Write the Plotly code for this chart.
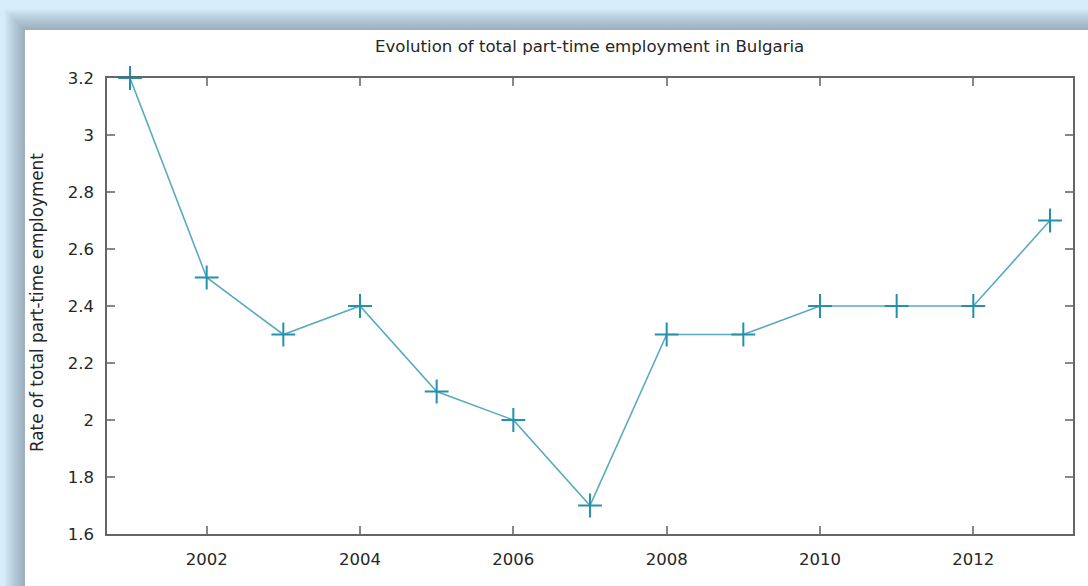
import plotly.graph_objects as go

years = [2001, 2002, 2003, 2004, 2005, 2006, 2007, 2008, 2009, 2010, 2011, 2012, 2013]
rates = [3.2, 2.5, 2.3, 2.4, 2.1, 2.0, 1.7, 2.3, 2.3, 2.4, 2.4, 2.4, 2.7]
x_ticks = [2002, 2004, 2006, 2008, 2010, 2012]
y_ticks = [1.6, 1.8, 2.0, 2.2, 2.4, 2.6, 2.8, 3.0, 3.2]
y_labels = ["1.6", "1.8", "2", "2.2", "2.4", "2.6", "2.8", "3", "3.2"]

W, H = 1088, 586
L, R, T, B = 107, 1073, 78, 534
pw, ph = R - L, B - T

def px(x):
    return (x - L) / pw

def py(y):
    return (B - y) / ph

FONT = "DejaVu Sans"
TXT = "#262626"

fig = go.Figure()
fig.add_trace(go.Scatter(
    x=years, y=rates, mode="lines+markers",
    line=dict(color="#5aabc0", width=1.6),
    marker=dict(symbol="cross-thin", size=17, line=dict(color="#2391ac", width=2)),
    cliponaxis=False, showlegend=False,
))

shapes = []
# window shadow
for i in range(10):
    off = 20 - i * 2
    shapes.append(dict(type="rect", xref="paper", yref="paper", layer="below",
                       x0=px(25 - off), x1=px(W + 50), y0=py(H + 50), y1=py(30 - off),
                       fillcolor="rgba(70,90,110,0.05)", line=dict(width=0)))
shapes.append(dict(type="rect", xref="paper", yref="paper", layer="below",
                   x0=px(25), x1=px(W + 50), y0=py(H + 50), y1=py(30),
                   fillcolor="white", line=dict(width=0)))
fig.update_layout(shapes=shapes)

fig.add_annotation(text="Evolution of total part-time employment in Bulgaria",
                   xref="paper", yref="paper", x=px(589), y=py(46), showarrow=False,
                   xanchor="center", yanchor="middle",
                   font=dict(family=FONT, size=16.6, color=TXT))
fig.add_annotation(text="Rate of total part-time employment",
                   xref="paper", yref="paper", x=px(37), y=py(303), showarrow=False,
                   textangle=-90, xanchor="center", yanchor="middle",
                   font=dict(family=FONT, size=16.8, color=TXT))

axis_common = dict(showgrid=False, zeroline=False, showline=True, linecolor="#666666",
                   linewidth=1.5, mirror="ticks", ticks="inside", ticklen=8,
                   tickcolor="#888888", tickwidth=1.5,
                   tickfont=dict(family=FONT, size=16.5, color=TXT))

fig.update_xaxes(range=[2000.7, 2013.3], tickvals=x_ticks, ticklabelstandoff=9, **axis_common)
fig.update_yaxes(range=[1.6, 3.2], tickvals=y_ticks, ticktext=y_labels, ticklabelstandoff=8, **axis_common)

fig.update_layout(
    width=W, height=H,
    margin=dict(l=L, r=W - R, t=T, b=H - B),
    paper_bgcolor="#d7ecfa", plot_bgcolor="white",
)
fig.write_html("out.html")
